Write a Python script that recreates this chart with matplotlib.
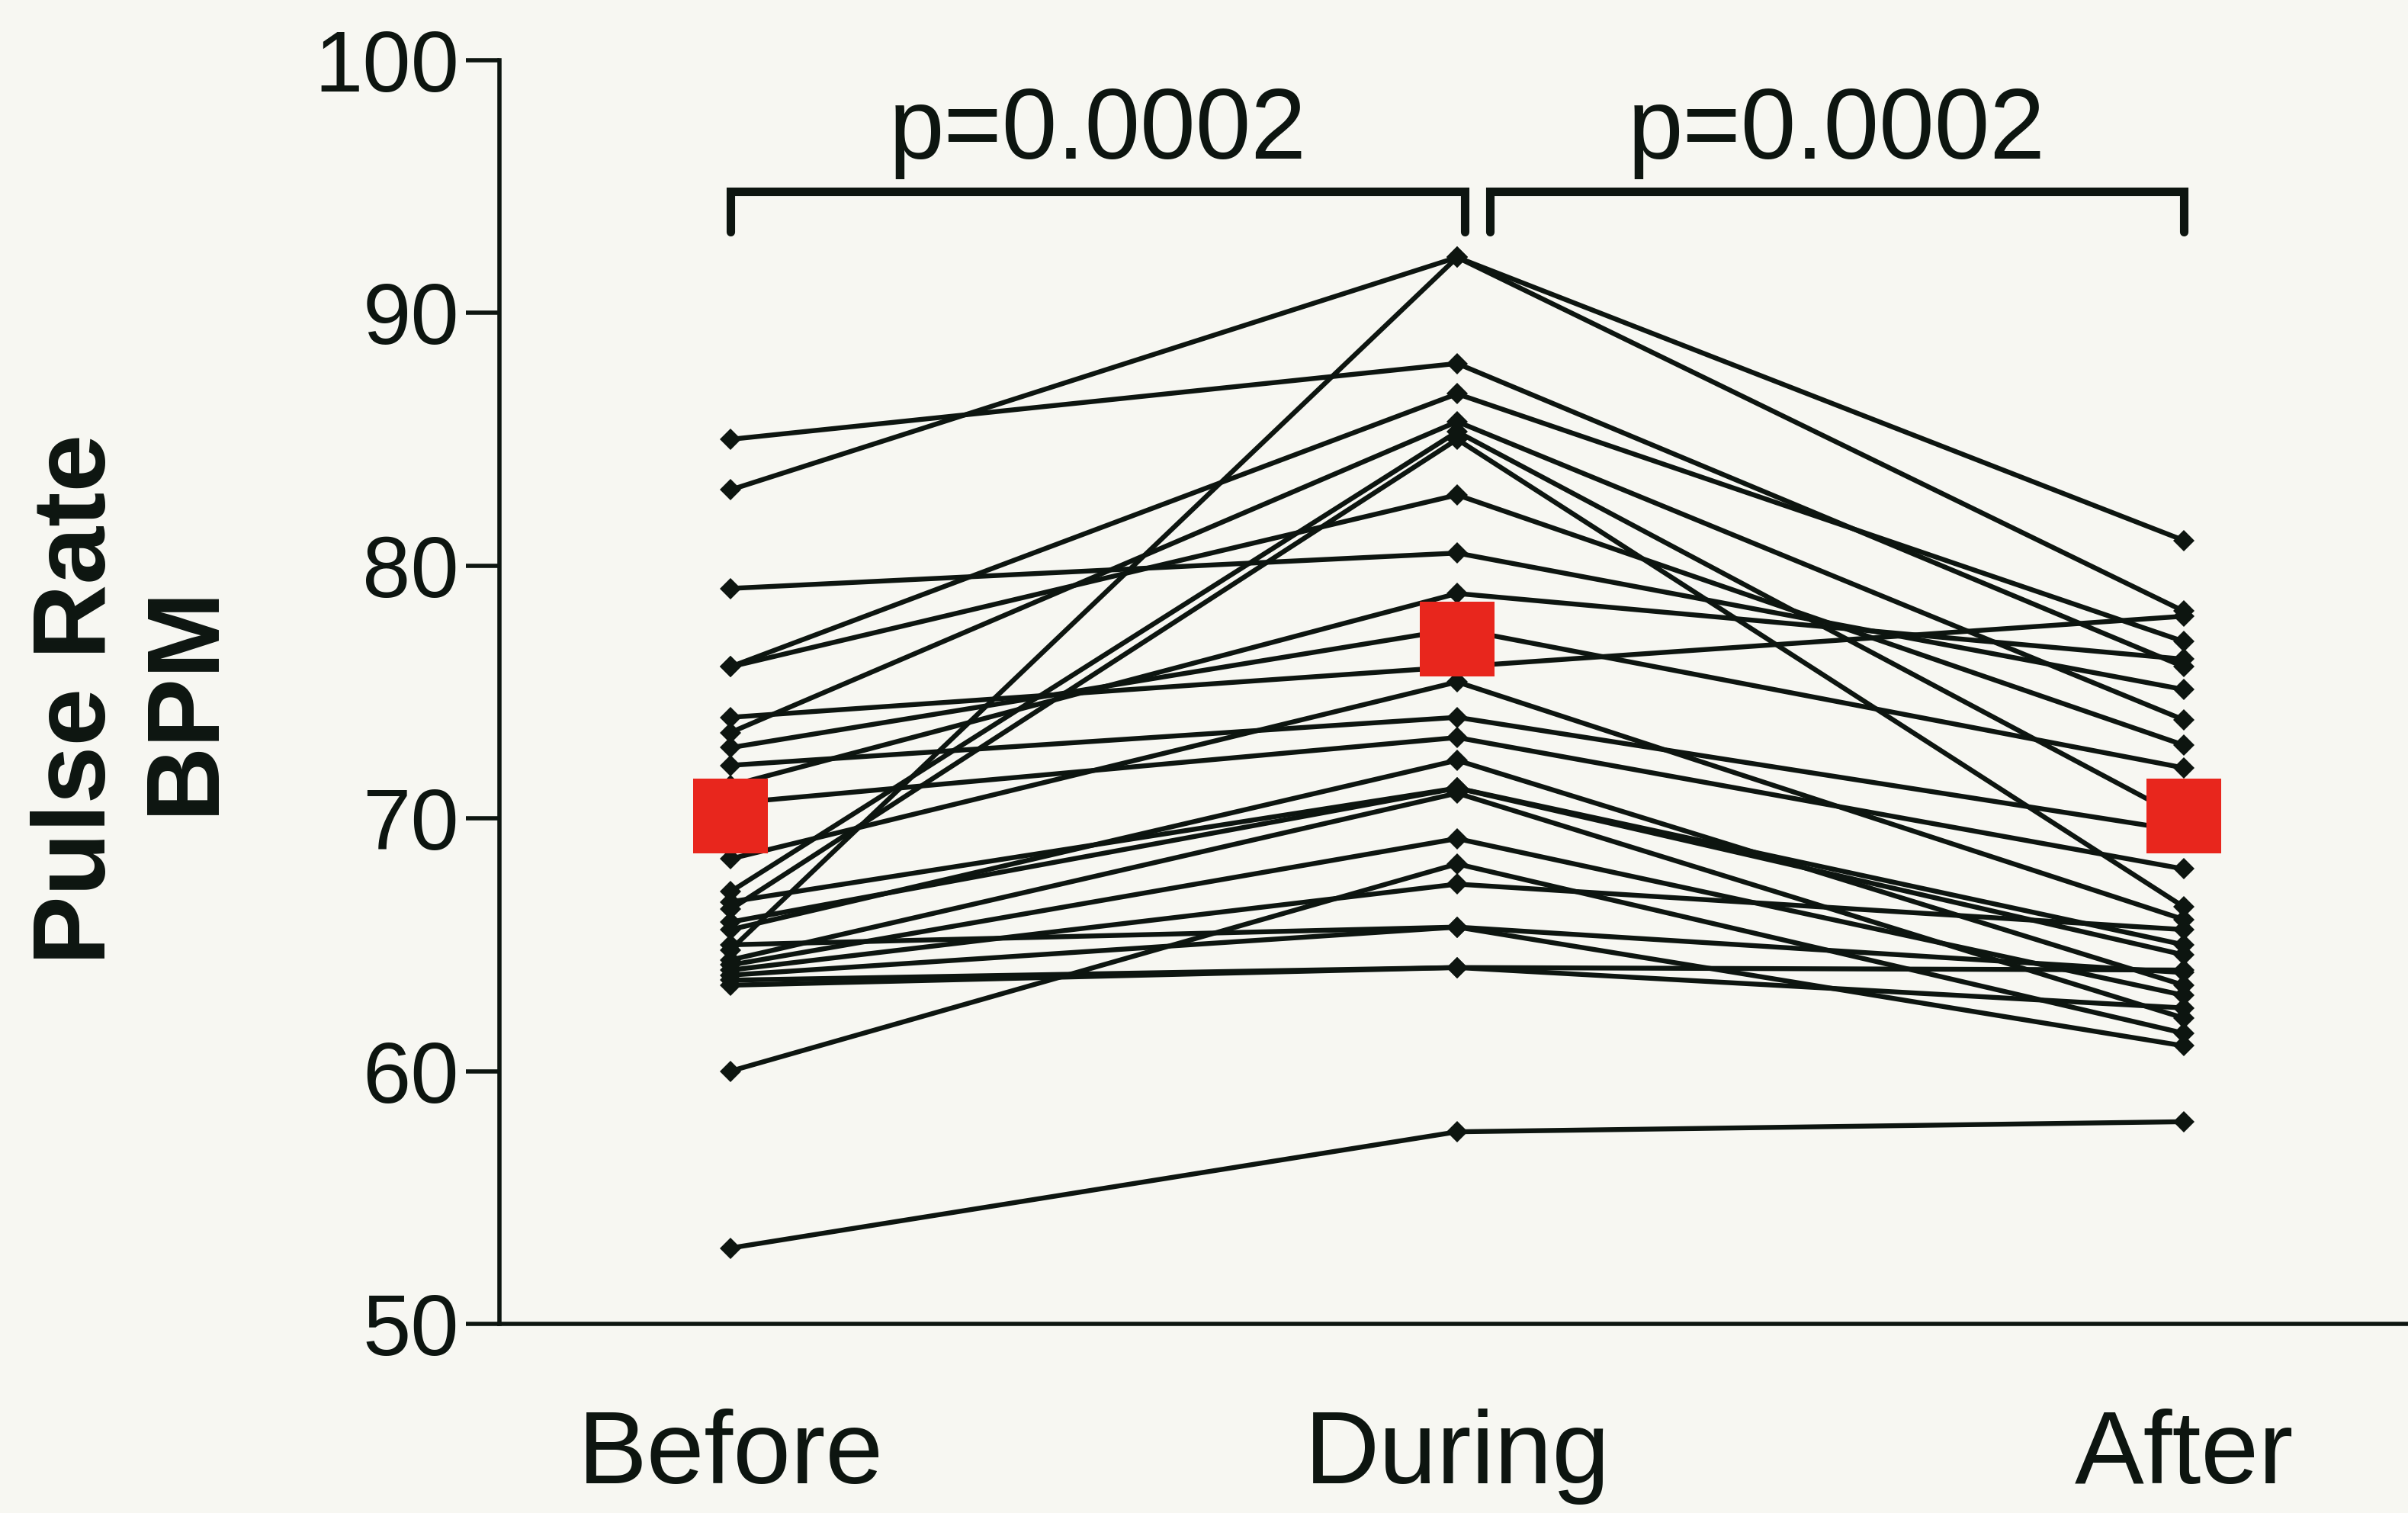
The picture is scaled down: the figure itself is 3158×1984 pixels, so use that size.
import matplotlib
matplotlib.use("Agg")
import matplotlib.pyplot as plt

plt.rcParams['font.family'] = ['Liberation Sans', 'DejaVu Sans']

# pulse rate (BPM) for each subject: before, during and after the task
before = [85.0, 83.0, 79.1, 76.0, 76.0, 74.0, 73.4, 72.8, 72.1, 71.3, 70.6, 68.4, 67.1, 66.7,
          66.4, 65.9, 65.6, 65.0, 64.8, 64.4, 64.2, 64.0, 63.8, 63.6, 63.4, 60.0, 53.0]
during = [88.0, 92.2, 80.5, 86.8, 82.8, 76.0, 85.7, 77.5, 74.0, 78.9, 73.2, 75.4, 85.3, 71.2,
          85.0, 71.2, 72.3, 65.7, 92.2, 71.0, 69.2, 67.4, 65.7, 64.1, 64.1, 68.2, 57.6]
after = [76.0, 81.0, 75.1, 77.0, 72.9, 78.0, 73.9, 72.0, 69.5, 76.3, 68.0, 66.0, 70.0, 65.0,
         66.5, 64.6, 63.4, 63.9, 78.2, 62.1, 63.0, 65.6, 61.0, 62.5, 64.0, 61.5, 58.0]

# group means
means = [70.1, 77.1, 70.1]

phases = ["Before", "During", "After"]
p_values = ["p=0.0002", "p=0.0002"]

bg = '#f7f7f2'
ink = '#0d1510'

fig = plt.figure(figsize=(31.58, 19.84), dpi=100, facecolor=bg)
ax = fig.add_axes([0.2074, 0.125, 0.7926, 0.8352], facecolor=bg)

xs = [0, 1, 2]
for b, d, a in zip(before, during, after):
    ax.plot(xs, [b, d, a], color=ink, lw=4.6, marker='D', markersize=14,
            markeredgewidth=0, solid_capstyle='round', zorder=2)

ax.plot(xs, means, linestyle='none', marker='s', markersize=70,
        color='#e8261d', markeredgewidth=0, zorder=5, clip_on=False)

# significance brackets
brackets = [(0.0, 1.01), (1.045, 2.0)]
for (x0, x1), txt in zip(brackets, p_values):
    ax.plot([x0, x0, x1, x1], [93.2, 94.8, 94.8, 93.2], color=ink, lw=8,
            solid_joinstyle='miter', solid_capstyle='round', zorder=3)
    ax.text((x0 + x1) / 2, 95.3, txt, ha='center', va='bottom', fontsize=94, color=ink)

ax.set_xlim(-0.318, 2.3085)
ax.set_ylim(50, 100)
ax.set_yticks([50, 60, 70, 80, 90, 100])
ax.set_xticks(xs)
ax.set_xticklabels(phases)

for s in ['top', 'right']:
    ax.spines[s].set_visible(False)
ax.spines['left'].set_bounds(50, 100)
ax.spines['left'].set_linewidth(4)
ax.spines['bottom'].set_linewidth(4)
ax.spines['left'].set_color(ink)
ax.spines['bottom'].set_color(ink)

ax.tick_params(axis='y', direction='out', length=32, width=4, pad=6,
               labelsize=82, colors=ink)
ax.tick_params(axis='x', length=0, pad=80, labelsize=98, colors=ink)

fig.text(0.055, 0.538, "Pulse Rate\nBPM", rotation=90, ha='center', va='center',
         multialignment='center', fontsize=98, fontweight='bold', color=ink,
         linespacing=1.15)

fig.savefig("out.png", dpi=100, facecolor=bg)
